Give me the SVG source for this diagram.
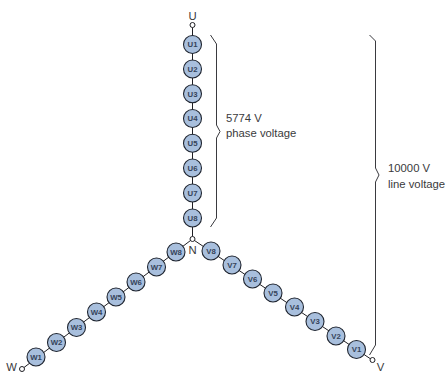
<svg xmlns="http://www.w3.org/2000/svg" width="448" height="374" viewBox="0 0 448 374">
<style>
.w{fill:none;stroke:#1f1f24;stroke-width:1}
.b{fill:none;stroke:#3a3a3f;stroke-width:1}
.c{fill:#a8bfdd;stroke:#1f2530;stroke-width:1.1}
.o{fill:#fff;stroke:#1f1f24;stroke-width:1}
.l{font:bold 7.8px "Liberation Sans",Arial,sans-serif;fill:#35435a;text-anchor:middle}
.t{font:11.3px "Liberation Sans",Arial,sans-serif;fill:#3a3a3c}
.m{text-anchor:middle}
</style>
<g id="connectors">
<path class="w" d="M192.500 27.500V236.500"/>
<path class="w" d="M190.500 240.500L24 367.500"/>
<path class="w" d="M194.500 240.500L370 358.500"/>
<path class="b" d="M210.500 35L216.500 44V125L220 131.500L216.500 138V218L210.500 227"/>
<path class="b" d="M369.500 35L375.500 41V168L379 175L375.500 182V345L369.500 355"/>
</g>
<g id="U"><circle class="o" cx="192.500" cy="25" r="2.500"/><text class="t m" x="192.500" y="20">U</text></g>
<g id="N"><circle class="o" cx="192.500" cy="239" r="2.500"/><text class="t m" x="192.700" y="253.500">N</text></g>
<g id="V"><circle class="o" cx="372.500" cy="360" r="2.500"/><text class="t m" x="380.500" y="371">V</text></g>
<g id="W"><circle class="o" cx="22" cy="369" r="2.500"/><text class="t m" x="11.500" y="371.200">W</text></g>
<g id="U1"><circle class="c" cx="192.500" cy="44.500" r="9"/><text class="l" x="192.500" y="47.300">U1</text></g>
<g id="U2"><circle class="c" cx="192.500" cy="69" r="9"/><text class="l" x="192.500" y="71.800">U2</text></g>
<g id="U3"><circle class="c" cx="192.500" cy="93.700" r="9"/><text class="l" x="192.500" y="96.500">U3</text></g>
<g id="U4"><circle class="c" cx="192.500" cy="118.500" r="9"/><text class="l" x="192.500" y="121.300">U4</text></g>
<g id="U5"><circle class="c" cx="192.500" cy="143.300" r="9"/><text class="l" x="192.500" y="146.100">U5</text></g>
<g id="U6"><circle class="c" cx="192.500" cy="168" r="9"/><text class="l" x="192.500" y="170.800">U6</text></g>
<g id="U7"><circle class="c" cx="192.500" cy="193" r="9"/><text class="l" x="192.500" y="195.800">U7</text></g>
<g id="U8"><circle class="c" cx="192.500" cy="218" r="9"/><text class="l" x="192.500" y="220.800">U8</text></g>
<g id="V8"><circle class="c" cx="211" cy="251" r="9"/><text class="l" x="211" y="253.800">V8</text></g>
<g id="V7"><circle class="c" cx="232" cy="265" r="9"/><text class="l" x="232" y="267.800">V7</text></g>
<g id="V6"><circle class="c" cx="252.500" cy="279" r="9"/><text class="l" x="252.500" y="281.800">V6</text></g>
<g id="V5"><circle class="c" cx="273" cy="293" r="9"/><text class="l" x="273" y="295.800">V5</text></g>
<g id="V4"><circle class="c" cx="294.500" cy="307" r="9"/><text class="l" x="294.500" y="309.800">V4</text></g>
<g id="V3"><circle class="c" cx="315" cy="321.500" r="9"/><text class="l" x="315" y="324.300">V3</text></g>
<g id="V2"><circle class="c" cx="336" cy="336" r="9"/><text class="l" x="336" y="338.800">V2</text></g>
<g id="V1"><circle class="c" cx="356.500" cy="349.500" r="9"/><text class="l" x="356.500" y="352.300">V1</text></g>
<g id="W8"><circle class="c" cx="176" cy="252" r="9"/><text class="l" x="176" y="254.800">W8</text></g>
<g id="W7"><circle class="c" cx="156.500" cy="267" r="9"/><text class="l" x="156.500" y="269.800">W7</text></g>
<g id="W6"><circle class="c" cx="136" cy="282" r="9"/><text class="l" x="136" y="284.800">W6</text></g>
<g id="W5"><circle class="c" cx="116" cy="297" r="9"/><text class="l" x="116" y="299.800">W5</text></g>
<g id="W4"><circle class="c" cx="96.500" cy="312" r="9"/><text class="l" x="96.500" y="314.800">W4</text></g>
<g id="W3"><circle class="c" cx="76.500" cy="327.500" r="9"/><text class="l" x="76.500" y="330.300">W3</text></g>
<g id="W2"><circle class="c" cx="56.500" cy="342.500" r="9"/><text class="l" x="56.500" y="345.300">W2</text></g>
<g id="W1"><circle class="c" cx="36" cy="357" r="9"/><text class="l" x="36" y="359.800">W1</text></g>
<g id="phase"><text class="t" x="226" y="122">5774 V</text><text class="t" x="226" y="137">phase voltage</text></g>
<g id="line"><text class="t" x="388" y="172.300">10000 V</text><text class="t" x="388" y="187.500">line voltage</text></g>
</svg>
